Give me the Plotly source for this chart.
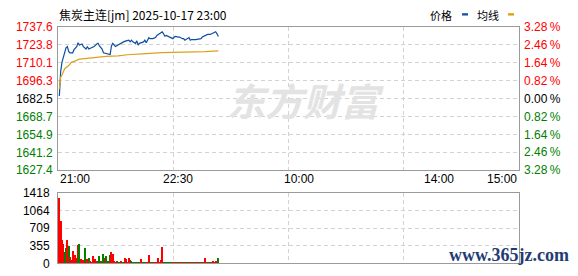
import plotly.graph_objects as go

# ---- night session of 焦炭主连[jm], 2025-10-17 (minute index from 21:00) ----
prev_close = 1682.5

price_min = [1, 2, 3, 4, 5, 6, 7, 8, 9, 11, 12, 14, 15, 16, 18, 19, 21, 22, 23, 25,
             27, 29, 30, 31, 33, 34, 36, 38, 39, 40, 41, 43, 45, 47, 49, 51, 53, 54, 55, 56,
             58, 59, 60, 61, 63, 64, 65, 66, 68, 69, 71, 73, 74, 75, 76, 78, 79, 80, 81, 83,
             84, 86, 87, 88, 90, 91, 93, 94, 95, 96, 98, 99, 100, 103, 105, 107, 108, 110, 112, 114,
             115, 116, 118, 119, 120]
price = [1684.5, 1703.3, 1710.6, 1714.2, 1717.9, 1721.5, 1722.5, 1718.8, 1717.7, 1717.7,
         1720.1, 1722.5, 1725.4, 1723.7, 1724.5, 1722.5, 1720.6, 1722.5, 1720.6, 1721.3,
         1722.5, 1724.5, 1725.0, 1723.0, 1720.6, 1717.7, 1717.2, 1717.2, 1716.4, 1723.0,
         1725.0, 1722.5, 1723.7, 1725.4, 1726.1, 1726.9, 1727.4, 1726.1, 1727.4, 1726.1,
         1725.0, 1726.9, 1723.7, 1725.0, 1726.1, 1726.1, 1727.4, 1725.4, 1729.4, 1728.6,
         1728.6, 1729.4, 1731.0, 1731.8, 1732.3, 1733.9, 1732.3, 1730.5, 1731.0, 1729.8,
         1729.8, 1728.6, 1729.8, 1730.3, 1729.8, 1729.8, 1728.6, 1728.6, 1727.4, 1727.9,
         1729.4, 1727.4, 1727.9, 1727.9, 1728.1, 1728.6, 1729.8, 1731.0, 1731.8, 1731.8,
         1732.3, 1732.7, 1733.9, 1732.3, 1730.3]

avg_min = [1, 2, 3, 5, 8, 10, 13, 16, 20, 25, 30, 36, 45, 52, 63, 78, 110, 120]
avg_price = [1690.0, 1699.0, 1700.6, 1705.5, 1707.9, 1710.4, 1711.5, 1712.8, 1713.3, 1714.0,
             1714.5, 1715.0, 1715.3, 1716.2, 1716.9, 1717.9, 1718.6, 1719.2]

vol_min = list(range(1, 121))
volume = [1309, 862, 460, 396, 224, 306, 460, 351, 128, 60,
          243, 173, 173, 96, 371, 396, 77, 45, 60, 306,
          32, 77, 115, 51, 20, 141, 20, 77, 38, 51,
          141, 51, 38, 192, 115, 141, 51, 45, 173, 236,
          179, 45, 25, 51, 20, 15, 38, 20, 15, 96,
          77, 20, 96, 64, 38, 15, 15, 12, 15, 15,
          15, 77, 20, 15, 12, 15, 15, 160, 15, 15,
          15, 12, 15, 15, 96, 15, 64, 332, 15, 15,
          15, 12, 15, 15, 15, 12, 15, 15, 15, 12,
          15, 15, 12, 15, 15, 15, 12, 15, 15, 15,
          15, 12, 15, 15, 15, 12, 15, 15, 15, 96,
          15, 15, 12, 15, 15, 51, 25, 51, 15, 96]
# r = up bar, g = down bar
vol_dir = ("rrrrggrgrr" "rrrgrgrrrg" "rrgrrrrrrg" "ggrgrggrgr"
           "rrrgrgrrgr" "rrrrgggggr" "grrgggrrgr" "grrrrrrrgg"
           "gggggrrggr" "grrgrggrrg" "grgrrggrgr" "rgrgrrrrrg")

price_ticks = [1627.4, 1641.2, 1654.9, 1668.7, 1682.5, 1696.3, 1710.1, 1723.8, 1737.6]
pct_labels = ["3.28", "2.46", "1.64", "0.82", "0.00", "0.82", "1.64", "2.46", "3.28"]
vol_ticks = [0, 355, 709, 1064, 1418]

session_len = 345  # 21:00-23:00, 9:00-10:15, 10:30-11:30, 13:30-15:00
time_labels = ["21:00", "22:30", "10:00", "14:00", "15:00"]
time_pos = [0, 90, 180, 285, 345]

# ---- styling ----
W, H = 578, 276
RED, GREEN, BLACK = "#ff0000", "#008000", "#000000"
GRID = "#d2d2d2"
BORDER = "#9a9a9a"
FONT = "Liberation Sans"
CJK = "Noto Sans CJK SC"

px_x = lambda p: p / W
px_y = lambda p: 1 - p / H

def level_color(v):
    if abs(v - prev_close) < 1e-6:
        return BLACK
    return RED if v > prev_close else GREEN

fig = go.Figure()
fig.add_trace(go.Scatter(x=price_min, y=price, mode="lines",
                         line=dict(color="#0b4f9f", width=1.2),
                         xaxis="x", yaxis="y", hoverinfo="skip"))
fig.add_trace(go.Scatter(x=avg_min, y=avg_price, mode="lines",
                         line=dict(color="#dca11c", width=1.2),
                         xaxis="x", yaxis="y", hoverinfo="skip"))
fig.add_trace(go.Bar(x=vol_min, y=volume,
                     marker=dict(color=[RED if d == "r" else GREEN for d in vol_dir],
                                 line=dict(width=0)),
                     width=0.8, xaxis="x2", yaxis="y2", hoverinfo="skip"))

quarters = [session_len * k / 4 for k in (1, 2, 3)]
xcommon = dict(domain=[px_x(58), px_x(519)], range=[0, session_len],
               tickvals=quarters, showticklabels=False, ticks="",
               showgrid=True, gridcolor=GRID, griddash="4px,3px", gridwidth=1,
               showline=True, mirror=True, linecolor=BORDER, linewidth=1,
               zeroline=False, fixedrange=True)

price_text = [f"<span style='color:{level_color(v)}'>{v:.1f}</span>" for v in price_ticks]

fig.update_layout(
    width=W, height=H, margin=dict(l=0, r=0, t=0, b=0),
    paper_bgcolor="white", plot_bgcolor="white",
    showlegend=False, bargap=0,
    xaxis=dict(anchor="y", **xcommon),
    xaxis2=dict(anchor="y2", **xcommon),
    yaxis=dict(domain=[px_y(172), px_y(21)], range=[price_ticks[0], price_ticks[-1]],
               tickvals=price_ticks, ticktext=price_text, ticks="",
               tickfont=dict(family=FONT, size=12, color=BLACK),
               ticklabelstandoff=2,
               showgrid=True, gridcolor=GRID, griddash="4px,3px",
               showline=True, mirror=True, linecolor=BORDER, linewidth=1,
               zeroline=False, fixedrange=True),
    yaxis2=dict(domain=[px_y(270), px_y(196)], range=[0, vol_ticks[-1]],
                tickvals=vol_ticks, ticktext=[str(v) for v in vol_ticks], ticks="",
                tickfont=dict(family=FONT, size=12, color=BLACK),
                ticklabelstandoff=5,
                showgrid=True, gridcolor=GRID, griddash="4px,3px",
                showline=True, mirror=True, linecolor=BORDER, linewidth=1,
                zeroline=False, fixedrange=True),
)

ann = []
# title
ann.append(dict(text="焦炭主连[jm] 2025-10-17 23:00", xref="paper", yref="paper",
                x=px_x(57), y=px_y(8), xanchor="left", yanchor="middle", showarrow=False,
                font=dict(family=CJK, size=12, color=BLACK)))
# legend labels
ann.append(dict(text="价格", xref="paper", yref="paper", x=px_x(454), y=px_y(8),
                xanchor="right", yanchor="middle", showarrow=False,
                font=dict(family=CJK, size=11, color=BLACK)))
ann.append(dict(text="均线", xref="paper", yref="paper", x=px_x(501), y=px_y(8),
                xanchor="right", yanchor="middle", showarrow=False,
                font=dict(family=CJK, size=11, color=BLACK)))
# percentage scale on the right
for v, lab in zip(price_ticks, pct_labels):
    c = level_color(v)
    ann.append(dict(text=f"{lab}\u2009%", xref="paper", yref="y", x=px_x(522), y=v,
                    xanchor="left", yanchor="middle", showarrow=False,
                    font=dict(family=FONT, size=12, color=c)))
# time labels
anchors = ["left", "center", "center", "center", "right"]
for lab, pos, a in zip(time_labels, time_pos, anchors):
    ann.append(dict(text=lab, xref="x", yref="paper", x=pos, y=px_y(181),
                    xanchor=a, yanchor="middle", showarrow=False,
                    font=dict(family=FONT, size=12, color=BLACK)))
# watermarks
ann.append(dict(text="<b>东方财富</b>", xref="paper", yref="paper", x=px_x(305), y=px_y(97),
                xanchor="center", yanchor="middle", showarrow=False,
                font=dict(family=CJK, size=38, color="#e3e3e3", style="italic")))
ann.append(dict(text="<b>www.365jz.com</b>", xref="paper", yref="paper", x=px_x(571), y=px_y(261),
                xanchor="right", yanchor="middle", showarrow=False,
                font=dict(family="Liberation Serif", size=18, color="#1f3d74")))
fig.update_layout(annotations=ann)

# legend swatches
fig.update_layout(shapes=[
    dict(type="rect", xref="paper", yref="paper", x0=px_x(462), x1=px_x(468),
         y0=px_y(9), y1=px_y(6.5), fillcolor="#1a56a8", line=dict(width=0)),
    dict(type="rect", xref="paper", yref="paper", x0=px_x(508), x1=px_x(514),
         y0=px_y(9), y1=px_y(6.5), fillcolor="#e0a010", line=dict(width=0)),
])

fig.write_html("out.html")
